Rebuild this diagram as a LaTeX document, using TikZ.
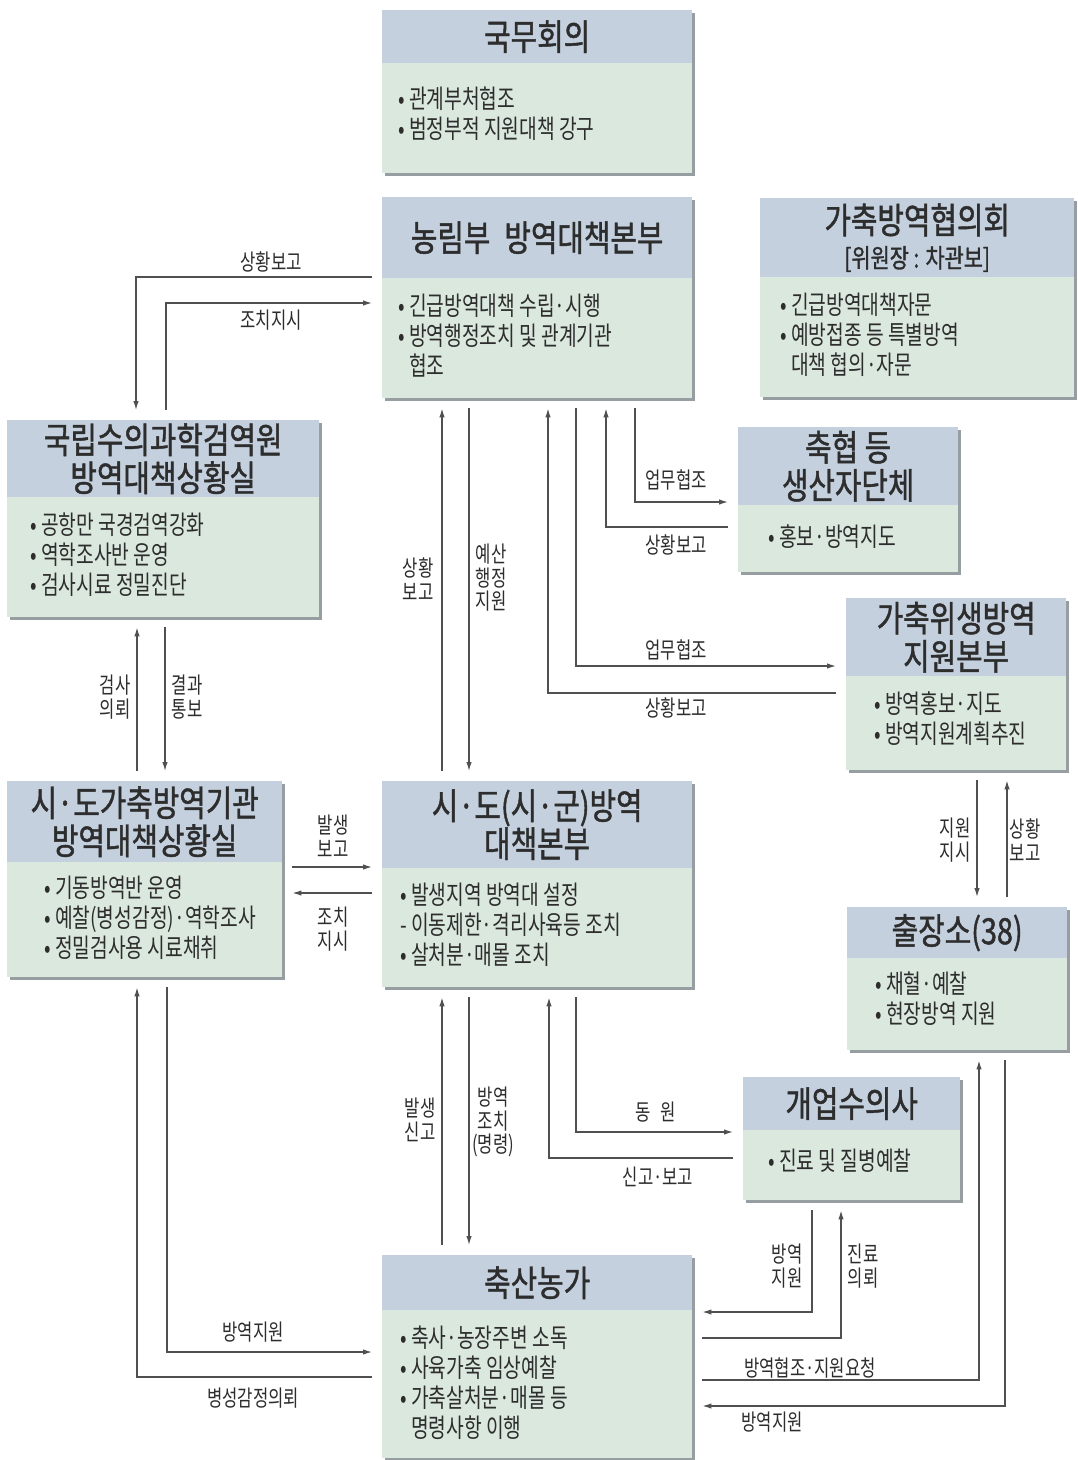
\documentclass[tikz,border=0pt]{standalone}
\usepackage{fontspec}
\setmainfont{Noto Sans CJK KR}[FakeStretch=0.74]
\newfontfamily\titlefont{Noto Sans CJK KR}[FakeStretch=0.8,FakeBold=1.2]
\usetikzlibrary{arrows.meta,shadows}
\definecolor{headcol}{RGB}{196,208,222}
\definecolor{bodycol}{RGB}{219,232,222}
\definecolor{shadecol}{RGB}{150,158,162}
\definecolor{linecol}{RGB}{80,80,80}
\definecolor{inkcol}{RGB}{45,45,45}

\begin{document}
\begin{tikzpicture}[x=1pt,y=-1pt,
  box/.style={rectangle,anchor=north west,inner sep=0pt,fill=bodycol,
    drop shadow={shadow xshift=3pt,shadow yshift=-3pt,fill=shadecol,opacity=1}},
  head/.style={rectangle,anchor=north west,inner sep=0pt,fill=headcol,text=inkcol,
    align=center,font=\titlefont\fontsize{36}{38}\selectfont},
  items/.style={anchor=north west,inner sep=0pt,text=inkcol,align=left,
    font=\fontsize{26}{30}\selectfont},
  lbl/.style={inner sep=0pt,text=inkcol,align=center,font=\fontsize{22.5}{23.5}\selectfont},
  arr/.style={draw=linecol,line width=1.3pt,-{Latex[length=9pt,width=5.5pt]},
    shorten <=10pt,shorten >=10pt}]
\def\xUp{442}
\def\xDown{469}
\useasboundingbox (0,0) rectangle (1078,1460);
\fill[white] (0,0) rectangle (1078,1460);
  %\draw[help lines,step=20] (0,0) grid (1078,1460);

\node[box,minimum width=310,minimum height=163] (kukmu) at (382,10) {};
\node[head,minimum width=310,minimum height=53] (kukmu-h) at (kukmu.north west) {국무회의};
\node[items] (kukmu-t) at (398,87) {• 관계부처협조\\• 범정부적 지원대책 강구};

\node[box,minimum width=310,minimum height=201] (nonglim) at (382,197) {};
\node[head,minimum width=310,minimum height=81] (nonglim-h) at (nonglim.north west) {농림부\hspace{14pt}방역대책본부};
\node[items] (nonglim-t) at (398,294) {• 긴급방역대책 수립·시행\\• 방역행정조치 및 관계기관\\\hphantom{• }협조};

\node[box,minimum width=314,minimum height=199] (hyeobui) at (760,198) {};
\node[head,minimum width=314,minimum height=79] (hyeobui-h) at (hyeobui.north west) {가축방역협의회\\[-4pt]{\fontsize{26}{30}\selectfont [위원장 : 차관보]}};
\node[items] (hyeobui-t) at (780,293) {• 긴급방역대책자문\\• 예방접종 등 특별방역\\\hphantom{• }대책 협의·자문};

\node[box,minimum width=312,minimum height=197] (geomyeok) at (7,420) {};
\node[head,minimum width=312,minimum height=77] (geomyeok-h) at (geomyeok.north west) {국립수의과학검역원\\방역대책상황실};
\node[items] (geomyeok-t) at (30,513) {• 공항만 국경검역강화\\• 역학조사반 운영\\• 검사시료 정밀진단};

\node[box,minimum width=220,minimum height=145] (chukhyeop) at (738,427) {};
\node[head,minimum width=220,minimum height=78] (chukhyeop-h) at (chukhyeop.north west) {축협 등\\생산자단체};
\node[items] (chukhyeop-t) at (768,524) {• 홍보·방역지도};

\node[box,minimum width=220,minimum height=172] (wisaeng) at (846,598) {};
\node[head,minimum width=220,minimum height=78] (wisaeng-h) at (wisaeng.north west) {가축위생방역\\지원본부};
\node[items] (wisaeng-t) at (874,691) {• 방역홍보·지도\\• 방역지원계획추진};

\node[box,minimum width=275,minimum height=196] (sido) at (7,781) {};
\node[head,minimum width=275,minimum height=81] (sido-h) at (sido.north west) {시·도가축방역기관\\방역대책상황실};
\node[items] (sido-t) at (44,876) {• 기동방역반 운영\\• 예찰(병성감정)·역학조사\\• 정밀검사용 시료채취};

\node[box,minimum width=310,minimum height=206] (bonbu) at (382,781) {};
\node[head,minimum width=310,minimum height=87] (bonbu-h) at (bonbu.north west) {시·도(시·군)방역\\대책본부};
\node[items] (bonbu-t) at (400,883) {• 발생지역 방역대 설정\\- 이동제한·격리사육등 조치\\• 살처분·매몰 조치};

\node[box,minimum width=220,minimum height=143] (chuljang) at (847,907) {};
\node[head,minimum width=220,minimum height=51] (chuljang-h) at (chuljang.north west) {출장소(38)};
\node[items] (chuljang-t) at (875,971) {• 채혈·예찰\\• 현장방역 지원};

\node[box,minimum width=217,minimum height=123] (gaeeop) at (743,1077) {};
\node[head,minimum width=217,minimum height=53] (gaeeop-h) at (gaeeop.north west) {개업수의사};
\node[items] (gaeeop-t) at (768,1149) {• 진료 및 질병예찰};

\node[box,minimum width=310,minimum height=203] (farm) at (382,1255) {};
\node[head,minimum width=310,minimum height=55] (farm-h) at (farm.north west) {축산농가};
\node[items] (farm-t) at (400,1326) {• 축사·농장주변 소독\\• 사육가축 임상예찰\\• 가축살처분·매몰 등\\\hphantom{• }명령사항 이행};

\begin{scope}[every path/.style=arr]
\path (nonglim.west |- 0,277) -| (geomyeok.north -| 136,0);
\path (geomyeok.north -| 166,0) |- (nonglim.west |- 0,303);
\path (bonbu.north -| \xUp,0) -- (nonglim.south -| \xUp,0);
\path (nonglim.south -| \xDown,0) -- (bonbu.north -| \xDown,0);
\path (nonglim.south -| 635,0) |- (chukhyeop.west |- 0,502);
\path (chukhyeop.west |- 0,527) -| (nonglim.south -| 606,0);
\path (nonglim.south -| 576,0) |- (wisaeng.west |- 0,666);
\path (wisaeng.west |- 0,693) -| (nonglim.south -| 548,0);
\path (wisaeng.south -| 977,0) -- (chuljang.north -| 977,0);
\path (chuljang.north -| 1007,0) -- (wisaeng.south -| 1007,0);
\path (sido.north -| 137,0) -- (geomyeok.south -| 137,0);
\path (geomyeok.south -| 165,0) -- (sido.north -| 165,0);
\path (sido.east |- 0,867) -- (bonbu.west |- 0,867);
\path (bonbu.west |- 0,893) -- (sido.east |- 0,893);
\path (farm.north -| \xUp,0) -- (bonbu.south -| \xUp,0);
\path (bonbu.south -| \xDown,0) -- (farm.north -| \xDown,0);
\path (bonbu.south -| 576,0) |- (gaeeop.west |- 0,1132);
\path (gaeeop.west |- 0,1158) -| (bonbu.south -| 549,0);
\path (gaeeop.south -| 812,0) |- (farm.east |- 0,1312);
\path (farm.east |- 0,1338) -| (gaeeop.south -| 841,0);
\path (farm.east |- 0,1380) -| (chuljang.south -| 979,0);
\path (chuljang.south -| 1005,0) |- (farm.east |- 0,1406);
\path (sido.south -| 167,0) |- (farm.west |- 0,1352);
\path (farm.west |- 0,1377) -| (sido.south -| 137,0);
\end{scope}

\path
(271,262) node[lbl] (l-report1) {상황보고}
(271,320) node[lbl] (l-order1) {조치지시}
(418,579) node[lbl] (l-report2) {상황\\보고}
(491,578) node[lbl] (l-budget) {예산\\행정\\지원}
(676,480) node[lbl] (l-coop1) {업무협조}
(676,545) node[lbl] (l-report3) {상황보고}
(676,650) node[lbl] (l-coop2) {업무협조}
(676,708) node[lbl] (l-report4) {상황보고}
(115,697) node[lbl] (l-test) {검사\\의뢰}
(187,697) node[lbl] (l-result) {결과\\통보}
(333,836) node[lbl] (l-occur) {발생\\보고}
(333,929) node[lbl] (l-order2) {조치\\지시}
(955,840) node[lbl] (l-support) {지원\\지시}
(1025,840) node[lbl] (l-report5) {상황\\보고}
(420,1120) node[lbl] (l-notify) {발생\\신고}
(493,1122) node[lbl] (l-measure) {방역\\조치\\(명령)}
(656,1112) node[lbl] (l-mobil) {동\hspace{10pt}원}
(658,1177) node[lbl] (l-notify2) {신고·보고}
(787,1266) node[lbl] (l-aid1) {방역\\지원}
(863,1266) node[lbl] (l-clinic) {진료\\의뢰}
(810,1368) node[lbl] (l-request) {방역협조·지원요청}
(772,1422) node[lbl] (l-aid2) {방역지원}
(253,1332) node[lbl] (l-aid3) {방역지원}
(253,1398) node[lbl] (l-diag) {병성감정의뢰}
;
\end{tikzpicture}
\end{document}
